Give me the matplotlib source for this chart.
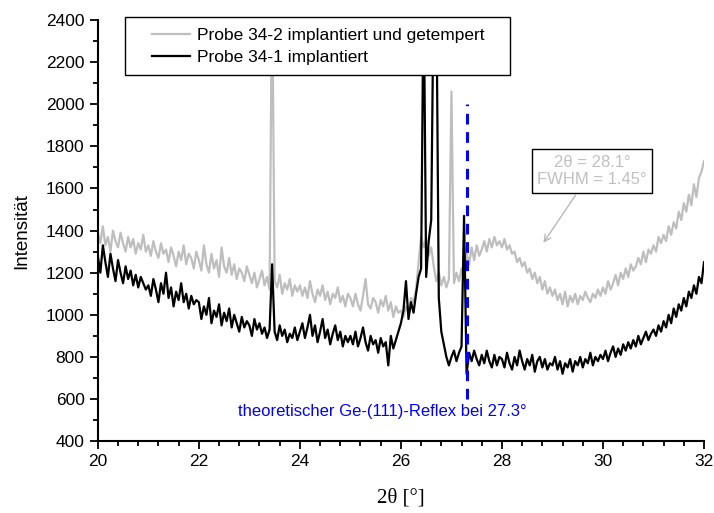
import numpy as np
import matplotlib
matplotlib.use("Agg")
import matplotlib.pyplot as plt
from matplotlib.ticker import MultipleLocator
from matplotlib.patches import Rectangle

plt.rcParams['font.family'] = ['Liberation Sans', 'DejaVu Sans']

# 2theta grid, 0.05 deg step
two_theta = np.round(np.arange(20.0, 32.001, 0.05), 2)

# Probe 34-2 implantiert und getempert (grey)
probe_34_2 = [
    1390, 1340, 1420, 1330, 1370, 1300, 1400, 1350, 1320, 1390, 1340, 1300, 1370, 1320, 1360, 1290, 1340, 1310, 1380, 1300,
    1330, 1280, 1350, 1300, 1270, 1340, 1290, 1310, 1250, 1320, 1280, 1230, 1300, 1260, 1330, 1240, 1290, 1270, 1220, 1300,
    1260, 1210, 1330, 1240, 1200, 1290, 1220, 1260, 1180, 1320, 1230, 1200, 1270, 1190, 1240, 1170, 1220, 1200, 1160, 1230,
    1190, 1150, 1200, 1130, 1170, 1210, 1140, 1180, 1120, 2600, 1160, 1130, 1190, 1100, 1150, 1120, 1170, 1090, 1140, 1110,
    1140, 1090, 1130, 1080, 1160, 1100, 1060, 1120, 1090, 1140, 1070, 1110, 1050, 1100, 1080, 1130, 1060, 1090, 1040, 1100,
    1080, 1040, 1100, 1050, 1020, 1090, 1170, 1050, 1030, 1080, 1060, 1010, 1070, 1040, 1090, 1020, 1060, 990, 1040, 1010,
    1020, 990, 1040, 1010, 1080, 1060, 1120, 1250, 1370, 1320, 1360, 1280, 1320, 1230, 1160, 1200, 1140, 1180, 1130, 1170,
    2060, 1150, 1200, 1160, 1220, 1180, 1290, 1240, 1320, 1260, 1330, 1280, 1310, 1350, 1300, 1360, 1320, 1370, 1330, 1350,
    1320, 1360, 1310, 1330, 1290, 1300, 1250, 1270, 1230, 1250, 1200, 1220, 1170, 1200, 1150, 1180, 1120, 1160, 1100, 1130,
    1090, 1120, 1070, 1100, 1050, 1110, 1040, 1090, 1060, 1100, 1050, 1090, 1070, 1110, 1080, 1060, 1100, 1080, 1120, 1090,
    1130, 1100, 1160, 1120, 1150, 1190, 1140, 1200, 1170, 1220, 1180, 1240, 1210, 1230, 1270, 1240, 1300, 1250, 1310, 1290,
    1330, 1300, 1370, 1340, 1380, 1350, 1420, 1380, 1440, 1410, 1490, 1450, 1530, 1490, 1570, 1520, 1620, 1560, 1650, 1680,
    1730,
]

# Probe 34-1 implantiert (black)
probe_34_1 = [
    1280, 1200, 1330, 1250, 1180, 1290, 1220, 1160, 1260, 1200, 1150, 1230, 1170, 1210, 1140, 1190, 1130, 1180, 1150, 1120,
    1140, 1090, 1170, 1120, 1060, 1150, 1100, 1200, 1080, 1130, 1040, 1110, 1070, 1150, 1060, 1100, 1030, 1090, 1050, 1070,
    1060, 980, 1040, 1000, 1080, 960, 1020, 990, 1050, 950, 1010, 970, 1030, 940, 1000, 960, 920, 990, 940, 970,
    950, 900, 980, 930, 960, 910, 940, 890, 930, 1240, 920, 880, 950, 900, 930, 870, 910, 890, 940, 880,
    920, 960, 890, 940, 1000, 900, 950, 870, 920, 980, 890, 930, 860, 910, 950, 880, 920, 850, 900, 870,
    900, 860, 920, 850, 890, 940, 870, 830, 900, 860, 880, 820, 890, 850, 870, 760, 900, 840, 880, 920,
    960, 1020, 1160, 980, 1060, 1010, 1100, 1180, 1220, 2600, 1180, 1350, 1450, 2600, 2600, 1080, 920, 860, 800, 760,
    800, 830, 780, 820, 850, 1470, 720, 820, 780, 830, 790, 760, 810, 770, 830, 780, 750, 810, 760, 800,
    790, 750, 820, 770, 740, 800, 760, 830, 780, 740, 790, 760, 810, 730, 780, 800, 750, 790, 740, 770,
    760, 800, 740, 780, 720, 770, 750, 790, 730, 780, 760, 800, 750, 790, 770, 820, 760, 800, 780, 810,
    790, 830, 780, 820, 850, 800, 840, 810, 860, 830, 870, 840, 880, 850, 900, 860, 890, 920, 880, 910,
    930, 900, 950, 920, 970, 940, 1000, 960, 1030, 990, 1050, 1020, 1080, 1040, 1110, 1080, 1140, 1100, 1180, 1150,
    1250,
]

ge_111 = 27.3
ge_line_range = [600, 2000]

W, H = 714, 513
fig = plt.figure(figsize=(W / 100, H / 100), dpi=100)
ax = fig.add_axes([0.137, 0.140, 0.849, 0.821])

l2, = ax.plot(two_theta, probe_34_2, color='#bebebe', lw=1.6, label='Probe 34-2 implantiert und getempert')
l1, = ax.plot(two_theta, probe_34_1, color='black', lw=1.6, label='Probe 34-1 implantiert')
ax.plot([ge_111, ge_111], ge_line_range, color='#0000ff', lw=2.2, ls=(0, (3.5, 2.5)), zorder=5)

ax.text(22.78, 543, 'theoretischer Ge-(111)-Reflex bei 27.3°', color='#0000ff',
        fontsize=12, ha='left', va='center')

ax.annotate('2θ = 28.1°\nFWHM = 1.45°', xy=(28.79, 1331), xytext=(29.78, 1683),
            color='#c0c0c0', fontsize=12, ha='center', va='center', multialignment='center',
            bbox=dict(boxstyle='square,pad=0.32', fc='white', ec='black', lw=1),
            arrowprops=dict(arrowstyle='->', color='#b8b8b8', lw=1))

ax.set_xlim(20, 32)
ax.set_ylim(400, 2400)
ax.xaxis.set_major_locator(MultipleLocator(2))
ax.xaxis.set_minor_locator(MultipleLocator(0.4))
ax.yaxis.set_major_locator(MultipleLocator(200))
ax.yaxis.set_minor_locator(MultipleLocator(100))
ax.tick_params(which='major', length=6, width=1.3, labelsize=12.5, direction='out')
ax.tick_params(which='minor', length=3.5, width=1.3, direction='out')
for s in ['top', 'right']:
    ax.spines[s].set_visible(False)
for s in ['left', 'bottom']:
    ax.spines[s].set_linewidth(1.5)

ax.set_ylabel('Intensität', fontsize=13.5, labelpad=11)
ax.set_xlabel('2θ [°]', fontsize=15, family=['Liberation Serif', 'DejaVu Serif'], labelpad=14)

# legend frame drawn as a figure rectangle so it can be wider than the entries
fig.patches.append(Rectangle((125 / W, 1 - 75 / H), 385 / W, 58 / H, transform=fig.transFigure,
                             fc='white', ec='black', lw=1, zorder=1))
leg = fig.legend(handles=[l2, l1], loc='upper left', bbox_to_anchor=(152 / W, 1 - 28 / H),
                 fontsize=12.5, frameon=False, handlelength=2.2, handletextpad=0.4,
                 borderpad=0, labelspacing=0.4, borderaxespad=0)
leg.set_zorder(10)

fig.savefig('out.png', dpi=100)
